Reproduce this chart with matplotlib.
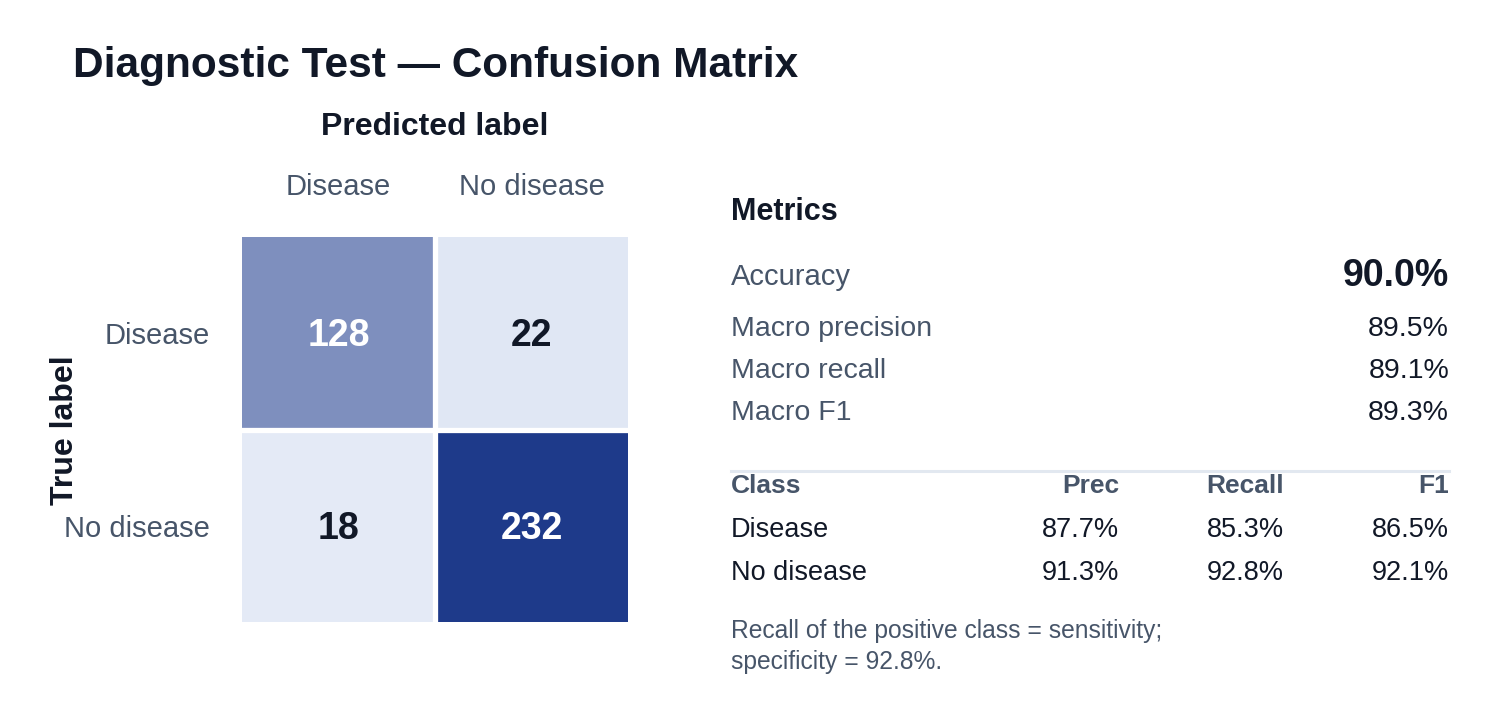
"""Confusion matrix for the diagnostic test, with a metrics panel on the right."""
import numpy as np
import matplotlib
matplotlib.use('Agg')
import matplotlib.pyplot as plt
from matplotlib.colors import LinearSegmentedColormap

plt.rcParams['font.family'] = ['Liberation Sans', 'DejaVu Sans']

W, H = 1500, 720
INK = '#111827'
SLATE = '#475569'

CLASSES = ['Disease', 'No disease']
CM = np.array([[128, 22],
               [18, 232]])
SUMMARY_NAMES = ['Macro precision', 'Macro recall', 'Macro F1']
SUMMARY_VALUES = [89.5, 89.1, 89.3]
ACCURACY = 90.0
PREC = [87.7, 91.3]
RECALL = [85.3, 92.8]
F1 = [86.5, 92.1]
SPECIFICITY = 92.8


def px(x, y):
    # pixel coords (top-left origin) -> figure fraction
    return x / W, 1 - y / H


fig = plt.figure(figsize=(W / 100, H / 100), dpi=100, facecolor='white')
fig.text(*px(73, 77), 'Diagnostic Test — Confusion Matrix', fontsize=30.5, fontweight='bold',
         color=INK, va='baseline', ha='left')

# heatmap
x0, y0, x1, y1 = 242, 237, 628, 622
ax = fig.add_axes([x0 / W, 1 - y1 / H, (x1 - x0) / W, (y1 - y0) / H])
cmap = LinearSegmentedColormap.from_list('blues', ['#e4eaf6', '#1e3a8a'])
ax.imshow(CM, cmap=cmap, vmin=CM.min(), vmax=CM.max(), aspect='auto',
          extent=(-0.5, 1.5, 1.5, -0.5))
ax.axvline(0.5, color='white', lw=3.8)
ax.axhline(0.5, color='white', lw=3.8)
for i in range(2):
    for j in range(2):
        v = CM[i, j]
        frac = (v - CM.min()) / (CM.max() - CM.min())
        ax.text(j, i + 0.015, f'{v}', ha='center', va='center', fontsize=27, fontweight='bold',
                color='white' if frac > 0.4 else INK)
ax.set_xticks(range(2)); ax.set_xticklabels(CLASSES, fontsize=21, color=SLATE)
ax.set_yticks(range(2)); ax.set_yticklabels(CLASSES, fontsize=21, color=SLATE)
ax.xaxis.tick_top()
ax.tick_params(axis='x', length=0, pad=26)
ax.tick_params(axis='y', length=0, pad=23)
for s in ax.spines.values():
    s.set_visible(False)
fig.text(*px(435, 135), 'Predicted label', fontsize=23, fontweight='bold', color=INK,
         ha='center', va='baseline')
fig.text(*px(65, 430), 'True label', fontsize=23, fontweight='bold', color=INK,
         ha='center', va='center', rotation=90)

# metrics panel
L, R = 731, 1449
fig.text(*px(L, 220), 'Metrics', fontsize=22, fontweight='bold', color=INK, va='baseline')
fig.text(*px(L, 285), 'Accuracy', fontsize=21, color=SLATE, va='baseline')
fig.text(*px(R, 286), f'{ACCURACY:.1f}%', fontsize=27, fontweight='bold', color=INK,
         ha='right', va='baseline')
for k, (name, val) in enumerate(zip(SUMMARY_NAMES, SUMMARY_VALUES)):
    yb = 336 + 42 * k
    fig.text(*px(L, yb), name, fontsize=20.5, color=SLATE, va='baseline')
    fig.text(*px(R, yb), f'{val:.1f}%', fontsize=20.5, color=INK, ha='right', va='baseline')

fig.add_artist(plt.Line2D([L / W, R / W], [1 - 471 / H] * 2, color='#e2e8f0', lw=2.2))
cols = [1119, 1284, 1449]
fig.text(*px(L, 493), 'Class', fontsize=19, fontweight='bold', color=SLATE, va='baseline')
for cx, lab in zip(cols, ['Prec', 'Recall', 'F1']):
    fig.text(*px(cx, 493), lab, fontsize=19, fontweight='bold', color=SLATE, ha='right', va='baseline')
for k, name in enumerate(CLASSES):
    yb = 537 + 43 * k
    fig.text(*px(L, yb), name, fontsize=19.5, color=INK, va='baseline')
    for cx, v in zip(cols, [PREC[k], RECALL[k], F1[k]]):
        fig.text(*px(cx, yb), f'{v:.1f}%', fontsize=19.5, color=INK, ha='right', va='baseline')

fig.text(*px(L, 638), 'Recall of the positive class = sensitivity;', fontsize=17.7, color=SLATE,
         va='baseline')
fig.text(*px(L, 669), f'specificity = {SPECIFICITY:.1f}%.', fontsize=17.7, color=SLATE, va='baseline')

fig.savefig('out.png', dpi=100, facecolor='white')
